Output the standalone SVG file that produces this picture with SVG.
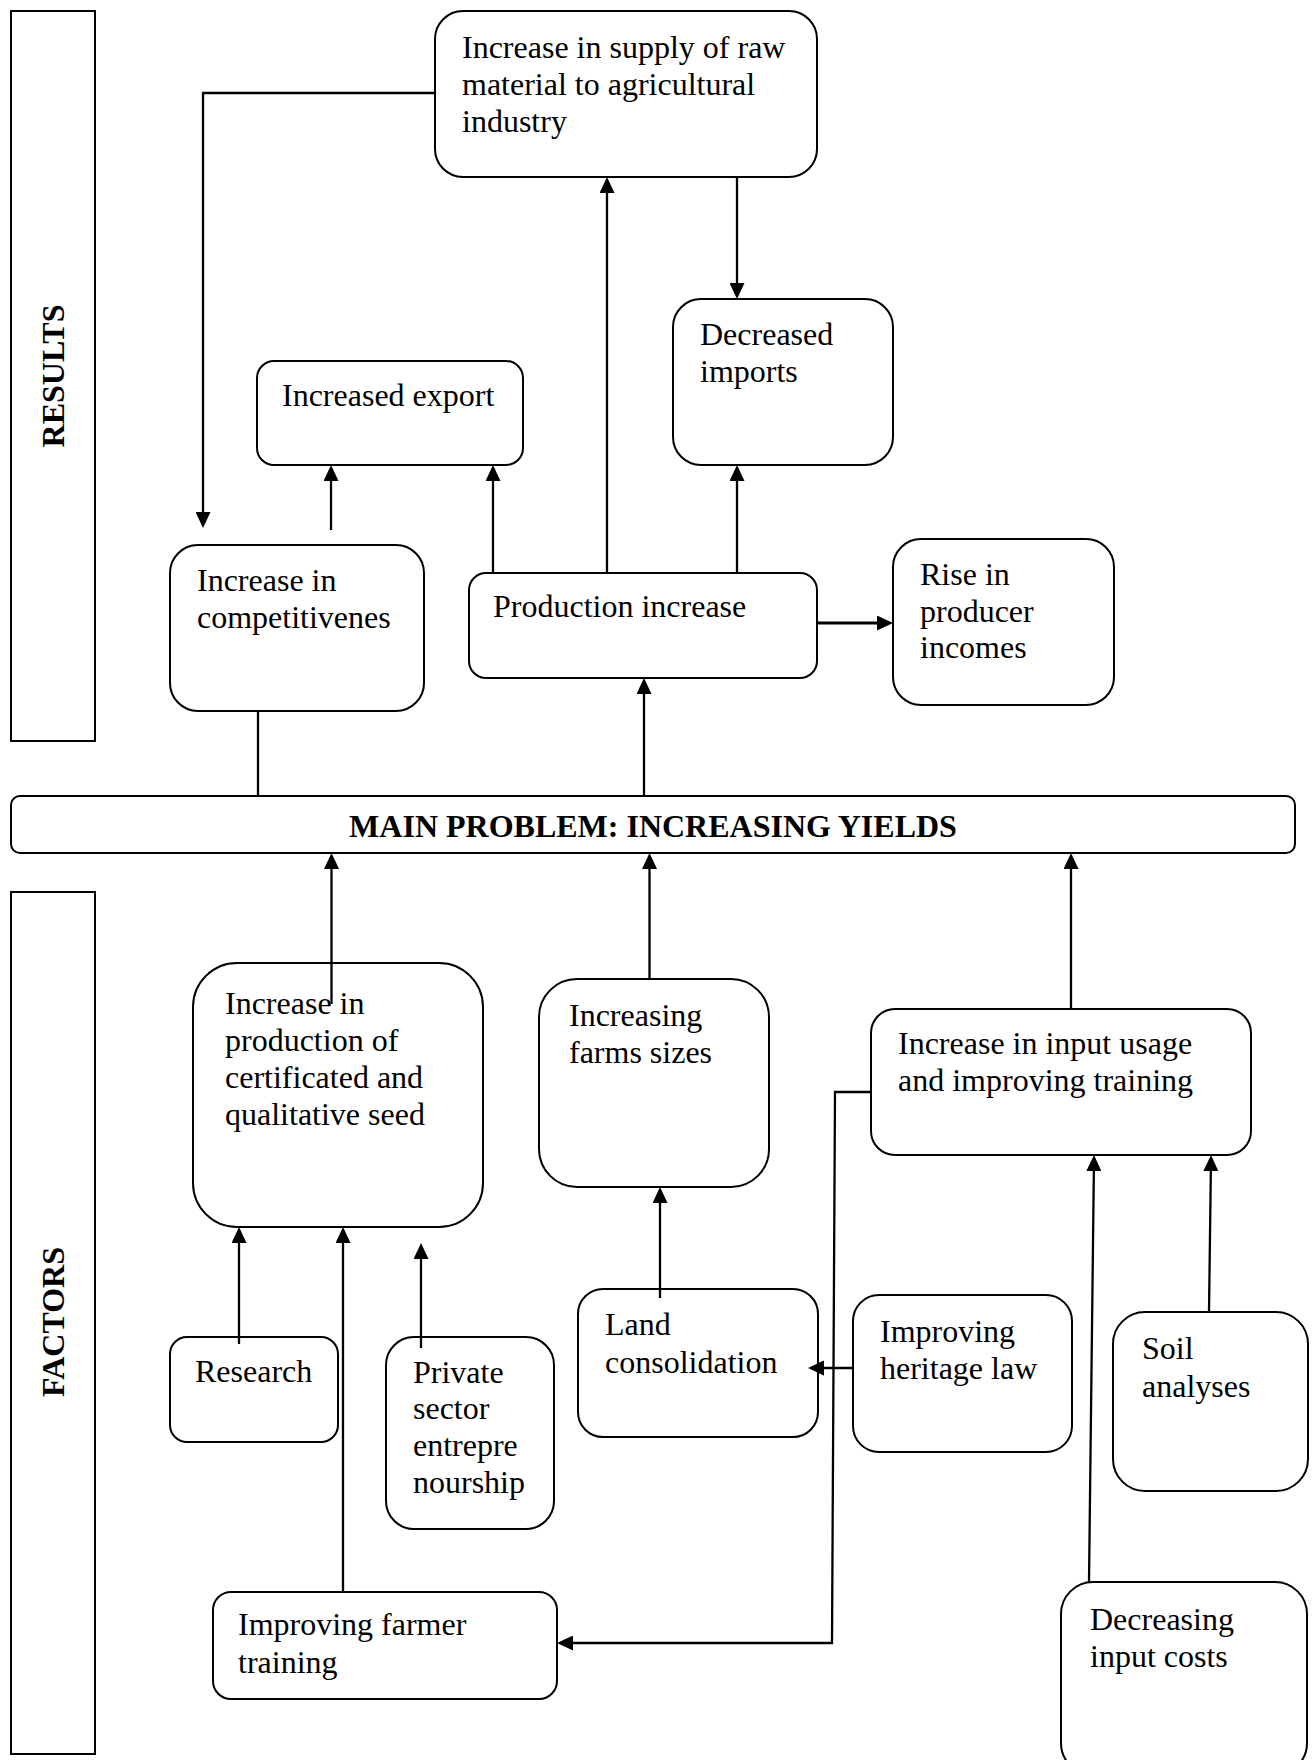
<svg xmlns="http://www.w3.org/2000/svg" width="1314" height="1760" viewBox="0 0 1314 1760">
<style>
.box{fill:#fff;stroke:#000;stroke-width:2}
.t{font-family:"Liberation Serif","Times New Roman",serif;font-size:32px;fill:#000}
.b{font-weight:bold}
.c{fill:none;stroke:#000;stroke-width:2.3}
</style>
<defs>
<marker id="ah" markerUnits="userSpaceOnUse" markerWidth="16" markerHeight="15" viewBox="0 0 16 15" refX="12" refY="7.5" orient="auto">
<path d="M0,0 L16,7.5 L0,15 z" fill="#000"/>
</marker>
</defs>
<rect width="1314" height="1760" fill="#fff"/>

<g id="results">
<rect x="11" y="11" width="84" height="730" class="box"/>
<text class="t b" text-anchor="middle" transform="translate(64,376) rotate(-90)">RESULTS</text>
</g>
<g id="factors">
<rect x="11" y="892" width="84" height="862" class="box"/>
<text class="t b" text-anchor="middle" transform="translate(64,1322) rotate(-90)">FACTORS</text>
</g>

<g id="connectors">
<polyline class="c" points="435,93 203,93 203,524" marker-end="url(#ah)"/>
<line class="c" x1="331" y1="530" x2="331" y2="469" marker-end="url(#ah)"/>
<line class="c" x1="493" y1="573" x2="493" y2="469" marker-end="url(#ah)"/>
<line class="c" x1="607" y1="573" x2="607" y2="181" marker-end="url(#ah)"/>
<line class="c" x1="737" y1="177" x2="737" y2="295" marker-end="url(#ah)"/>
<line class="c" x1="737" y1="573" x2="737" y2="469" marker-end="url(#ah)"/>
<line class="c" x1="817" y1="623" x2="889" y2="623" style="stroke-width:3.2" marker-end="url(#ah)"/>
<line class="c" x1="258" y1="711" x2="258" y2="796"/>
<line class="c" x1="644" y1="796" x2="644" y2="682" marker-end="url(#ah)"/>
<line class="c" x1="331.5" y1="1004" x2="331.5" y2="857" marker-end="url(#ah)"/>
<line class="c" x1="649.5" y1="979" x2="649.5" y2="857" marker-end="url(#ah)"/>
<line class="c" x1="1071" y1="1009" x2="1071" y2="857" marker-end="url(#ah)"/>
<line class="c" x1="239" y1="1344" x2="239" y2="1231" marker-end="url(#ah)"/>
<line class="c" x1="343" y1="1592" x2="343" y2="1231" marker-end="url(#ah)"/>
<line class="c" x1="421" y1="1348" x2="421" y2="1247" marker-end="url(#ah)"/>
<line class="c" x1="660" y1="1298" x2="660" y2="1191" marker-end="url(#ah)"/>
<line class="c" x1="853" y1="1368" x2="812" y2="1368" marker-end="url(#ah)"/>
<polyline class="c" points="871,1092 835,1092 832,1643 561,1643" marker-end="url(#ah)"/>
<line class="c" x1="1089" y1="1582" x2="1094" y2="1159" marker-end="url(#ah)"/>
<line class="c" x1="1209" y1="1312" x2="1211" y2="1159" marker-end="url(#ah)"/>
</g>

<g id="supply">
<rect x="435" y="11" width="382" height="166" rx="28" class="box"/>
<text class="t" x="462" y="58">Increase in supply of raw</text>
<text class="t" x="462" y="95">material to agricultural</text>
<text class="t" x="462" y="132">industry</text>
</g>
<g id="imports">
<rect x="673" y="299" width="220" height="166" rx="28" class="box"/>
<text class="t" x="700" y="345">Decreased</text>
<text class="t" x="700" y="382">imports</text>
</g>
<g id="export">
<rect x="257" y="361" width="266" height="104" rx="17" class="box"/>
<text class="t" x="282" y="406">Increased export</text>
</g>
<g id="competitiveness">
<rect x="170" y="545" width="254" height="166" rx="28" class="box"/>
<text class="t" x="197" y="591">Increase in</text>
<text class="t" x="197" y="628">competitivenes</text>
</g>
<g id="production">
<rect x="469" y="573" width="348" height="105" rx="17" class="box"/>
<text class="t" x="493" y="617">Production increase</text>
</g>
<g id="rise">
<rect x="893" y="539" width="221" height="166" rx="28" class="box"/>
<text class="t" x="920" y="585">Rise in</text>
<text class="t" x="920" y="622">producer</text>
<text class="t" x="920" y="658">incomes</text>
</g>
<g id="main">
<rect x="11" y="796" width="1284" height="57" rx="9" class="box"/>
<text class="t b" x="653" y="837" text-anchor="middle">MAIN PROBLEM: INCREASING YIELDS</text>
</g>
<g id="seed">
<rect x="193" y="963" width="290" height="264" rx="44" class="box"/>
<text class="t" x="225" y="1014">Increase in</text>
<text class="t" x="225" y="1051">production of</text>
<text class="t" x="225" y="1088">certificated and</text>
<text class="t" x="225" y="1125">qualitative seed</text>
</g>
<line class="c" x1="331.5" y1="963" x2="331.5" y2="1004"/>
<g id="farms">
<rect x="539" y="979" width="230" height="208" rx="38" class="box"/>
<text class="t" x="569" y="1026">Increasing</text>
<text class="t" x="569" y="1063">farms sizes</text>
</g>
<g id="input">
<rect x="871" y="1009" width="380" height="146" rx="24" class="box"/>
<text class="t" x="898" y="1054">Increase in input usage</text>
<text class="t" x="898" y="1091">and improving training</text>
</g>
<g id="research">
<rect x="170" y="1337" width="168" height="105" rx="17" class="box"/>
<text class="t" x="195" y="1382">Research</text>
</g>
<line class="c" x1="239" y1="1337" x2="239" y2="1344"/>
<g id="private">
<rect x="386" y="1337" width="168" height="192" rx="28" class="box"/>
<text class="t" x="413" y="1383">Private</text>
<text class="t" x="413" y="1419">sector</text>
<text class="t" x="413" y="1456">entrepre</text>
<text class="t" x="413" y="1493">nourship</text>
</g>
<line class="c" x1="421" y1="1337" x2="421" y2="1348"/>
<g id="land">
<rect x="578" y="1289" width="240" height="148" rx="25" class="box"/>
<text class="t" x="605" y="1335">Land</text>
<text class="t" x="605" y="1373">consolidation</text>
</g>
<line class="c" x1="660" y1="1289" x2="660" y2="1298"/>
<path d="M808,1368 L824,1360.5 L824,1375.5 z" fill="#000"/>
<g id="heritage">
<rect x="853" y="1295" width="219" height="157" rx="26" class="box"/>
<text class="t" x="880" y="1342">Improving</text>
<text class="t" x="880" y="1379">heritage law</text>
</g>
<g id="soil">
<rect x="1113" y="1312" width="195" height="179" rx="32" class="box"/>
<text class="t" x="1142" y="1359">Soil</text>
<text class="t" x="1142" y="1397">analyses</text>
</g>
<g id="decreasing">
<rect x="1061" y="1582" width="246" height="193" rx="32" class="box"/>
<text class="t" x="1090" y="1630">Decreasing</text>
<text class="t" x="1090" y="1667">input costs</text>
</g>
<g id="farmer">
<rect x="213" y="1592" width="344" height="107" rx="18" class="box"/>
<text class="t" x="238" y="1635">Improving farmer</text>
<text class="t" x="238" y="1673">training</text>
</g>
</svg>
